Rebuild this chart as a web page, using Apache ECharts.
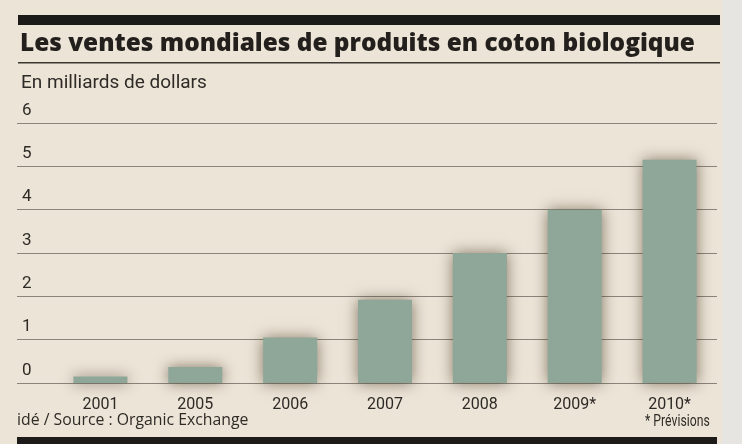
<!DOCTYPE html>
<html>
<head>
<meta charset="utf-8">
<script src="https://cdn.jsdelivr.net/npm/echarts@6/dist/echarts.min.js"></script>
<style>
  html, body { margin: 0; padding: 0; background: #ece4d7; }
  #chart { width: 742px; height: 444px; }
</style>
</head>
<body>
<div id="chart"></div>
<script>
// ventes mondiales, milliards de dollars
const years = ['2001', '2005', '2006', '2007', '2008', '2009*', '2010*']
const ventes = [0.15, 0.37, 1.05, 1.92, 3.0, 4.0, 5.15]
const yTicks = [0, 1, 2, 3, 4, 5, 6]

const narrow = 'Roboto, "Liberation Sans", sans-serif'
const humanist = '"Open Sans", "Noto Sans", sans-serif'

const myChart = echarts.init(document.getElementById('chart'))

const option = {
  backgroundColor: '#ece4d7',
  animation: false,
  grid: [
    // grille des lignes horizontales (plus large)
    { left: 17, right: 25, top: 123, bottom: 61 },
    // grille des barres
    { left: 53, right: 25, top: 123, bottom: 61 }
  ],
  xAxis: [
    { gridIndex: 0, type: 'value', show: false, min: 0, max: 1 },
    {
      gridIndex: 1,
      type: 'category',
      data: years,
      axisLine: { show: false },
      axisTick: { show: false },
      axisLabel: { color: '#2e2b27', fontFamily: narrow, fontSize: 16, margin: 14 }
    }
  ],
  yAxis: [
    {
      gridIndex: 0,
      type: 'value',
      min: yTicks[0],
      max: yTicks[yTicks.length - 1],
      interval: 1,
      axisLine: { show: false },
      axisTick: { show: false },
      axisLabel: {
        inside: true,
        margin: 5,
        verticalAlign: 'bottom',
        padding: [0, 0, 4, 0],
        color: '#2e2b27',
        fontFamily: narrow,
        fontSize: 17
      },
      splitLine: { show: true, lineStyle: { color: '#8a847b', width: 1 } }
    },
    { gridIndex: 1, type: 'value', min: 0, max: 6, show: false }
  ],
  graphic: [
    { type: 'rect', shape: { x: 722, y: 0, width: 20, height: 444 }, style: { fill: '#e6e5e2' } },
    { type: 'rect', shape: { x: 18, y: 15, width: 702, height: 10 }, style: { fill: '#1d1b1a' } },
    {
      type: 'text', left: 20, top: 32,
      style: { text: 'Les ventes mondiales de produits en coton biologique', fill: '#231f1c',
        font: '800 24.4px ' + humanist }
    },
    { type: 'rect', shape: { x: 18, y: 62, width: 702, height: 1.5 }, style: { fill: '#3a3632' } },
    {
      type: 'text', left: 21, top: 74,
      style: { text: 'En milliards de dollars', fill: '#2e2b27', font: '19px ' + narrow }
    },
    {
      type: 'text', x: 17, y: 412, scaleX: 0.93,
      style: { text: 'idé / Source : Organic Exchange', fill: '#2e2b27', font: '17px ' + humanist,
        verticalAlign: 'top' }
    },
    {
      type: 'text', x: 645, y: 413, scaleX: 0.72,
      style: { text: '* Prévisions', fill: '#2e2b27', font: '17px ' + narrow, verticalAlign: 'top' }
    },
    { type: 'rect', shape: { x: 17, y: 437, width: 700, height: 7 }, style: { fill: '#1d1b1a' } }
  ],
  series: [
    {
      type: 'bar',
      xAxisIndex: 1,
      yAxisIndex: 1,
      data: ventes,
      barWidth: 54,
      itemStyle: {
        color: '#8ea798',
        shadowBlur: 14,
        shadowColor: 'rgba(60, 45, 25, 0.6)'
      }
    }
  ]
}

myChart.setOption(option)
</script>
</body>
</html>
